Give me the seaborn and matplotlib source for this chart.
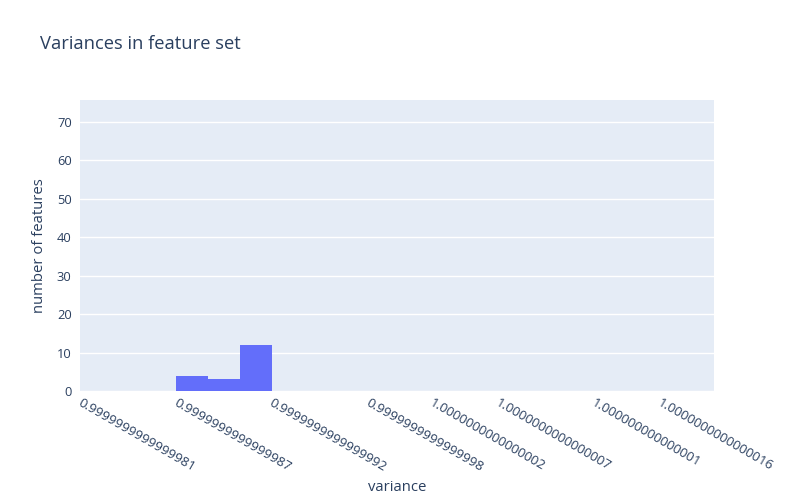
import matplotlib
matplotlib.use("Agg")
import matplotlib.pyplot as plt
import seaborn as sns
import numpy as np

# x positions are deviations from 1.0 in units of 1e-16 (as laid out on the axis)
bin_edges = [-14.1, -12.43, -10.77, -9.1]
bin_counts = [4, 3, 12]
tick_values = [-19, -14, -9.05, -4, -0.67, 2.77, 7.77, 11.16]
tick_labels = ["0.9999999999999981", "0.9999999999999987", "0.9999999999999992",
               "0.9999999999999998", "1.0000000000000002", "1.0000000000000007",
               "1.000000000000001", "1.0000000000000016"]
y_ticks = [0, 10, 20, 30, 40, 50, 60, 70]

sns.set_theme(style="darkgrid")
plt.rcParams['font.family'] = ['Open Sans', 'DejaVu Sans']
txt = "#2a3f5f"

fig = plt.figure(figsize=(8, 5), dpi=100)
ax = fig.add_axes([0.1, 0.218, 0.7925, 0.582])
ax.set_facecolor("#E5ECF6")

centers = [(bin_edges[i] + bin_edges[i + 1]) / 2 for i in range(len(bin_counts))]
sns.histplot(x=centers, weights=bin_counts, bins=bin_edges, ax=ax,
             color="#636EFA", alpha=1.0, edgecolor="none", linewidth=0)

ax.set_xlim(-19.1, 13.9)
ax.set_ylim(0, 75.7)
ax.set_xticks(tick_values)
ax.set_xticklabels(tick_labels, rotation=-30, ha="left", va="top",
                   rotation_mode="anchor", fontsize=9.5, color=txt)
ax.set_yticks(y_ticks)
ax.set_yticklabels([str(v) for v in y_ticks], fontsize=9.3, color=txt)
ax.tick_params(axis="both", length=0)
ax.tick_params(axis="y", pad=6)
ax.tick_params(axis="x", pad=4)
ax.grid(axis="x", visible=False)
ax.grid(axis="y", color="white", linewidth=1)
for s in ax.spines.values():
    s.set_visible(False)
ax.set_axisbelow(True)

ax.set_xlabel("variance", fontsize=10.7, color=txt, labelpad=4)
ax.set_ylabel("number of features", fontsize=10.7, color=txt, labelpad=7)
fig.text(0.05, 0.912, "Variances in feature set", fontsize=13.2, color=txt,
         ha="left", va="center")

fig.savefig("out.png", dpi=100)
